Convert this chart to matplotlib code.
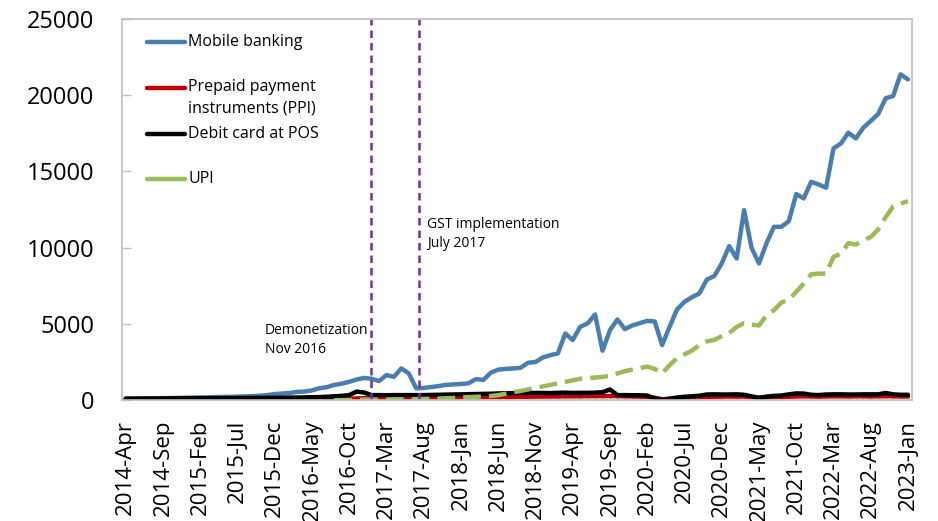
import matplotlib.pyplot as plt
from matplotlib.lines import Line2D
import numpy as np
import pandas as pd

plt.rcParams['font.family'] = ['Open Sans', 'DejaVu Sans']

months = pd.period_range('2014-04', '2023-01', freq='M')
month_labels = [m.strftime('%Y-%b') for m in months]

mobile_banking = [90, 95, 105, 110, 120, 130, 135, 150, 155, 170,
                  180, 185, 200, 210, 215, 230, 245, 265, 290,
                  330, 400, 430, 470, 540, 560, 640, 780, 850, 1000,
                  1080, 1200, 1350, 1460, 1400, 1250, 1640, 1530, 2080, 1750,
                  770, 800, 860, 920, 1000, 1030, 1060, 1100,
                  1380, 1320, 1800, 2000, 2050, 2080, 2120, 2450, 2500, 2800,
                  2950, 3060, 4370, 3940, 4810, 5030, 5620, 3240, 4590, 5290,
                  4660, 4900, 5050, 5200, 5160, 3610, 4810, 5950,
                  6450, 6750, 7000, 7910, 8140, 8970, 10100, 9290, 12460, 9990,
                  8970, 10280, 11370, 11370, 11740, 13520, 13230, 14320, 14150, 13930,
                  16510, 16840, 17540, 17170, 17870, 18310, 18770, 19800, 19950, 21370,
                  21040]

ppi = [20, 20, 25, 25, 25, 30, 30, 30, 35, 35, 40, 40, 40, 45, 45,
       45, 50, 50, 55, 55, 60, 60, 60, 65, 65, 70, 70, 75, 80, 85,
       90, 110, 130, 150, 140, 130, 140, 140, 150, 150, 160, 160, 170, 170,
       180, 180, 190, 190, 200, 200, 210,
       210, 220, 220, 220, 230, 230, 240, 240, 250, 250, 250, 260, 260, 260,
       270, 260, 250, 240, 230, 220, 160,
       60, 90, 130, 160, 180, 200, 210, 220, 230, 240,
       230, 240, 200, 160, 180, 200, 210, 220, 240, 250,
       240, 230, 240, 250, 250, 240, 250, 250, 240, 250,
       260, 250, 240, 240]

debit_pos = [100, 100, 105, 105, 110, 110, 115, 115, 120, 120, 125, 125, 130, 130,
             135, 140, 140, 145, 150, 150, 155, 160, 165, 170, 180, 190, 200,
             220, 250, 280, 330, 560, 500, 330, 330, 320, 330, 330, 330, 330, 330,
             340, 350, 360, 370, 380, 390, 400, 410, 420, 440,
             450, 460, 470, 480, 470, 470, 460, 480, 490, 470, 480, 480, 490, 520,
             700, 330, 330, 320, 320, 300, 100, 10, 90, 170, 220, 250, 290,
             370, 380, 370, 370, 380, 350, 250, 150,
             230, 280, 300, 380, 440, 430, 350, 330,
             370, 380, 380, 370, 370, 380, 380, 380,
             470, 380, 350, 350]

upi = [np.nan] * 28 + [0, 0, 2, 10, 30, 40, 30, 40, 50, 60,
                       60, 70, 80, 90, 100, 120, 140, 170, 200, 220,
                       240, 270, 330,
                       420, 520, 600, 700, 800, 900, 1000, 1100, 1200, 1300,
                       1400, 1450, 1480, 1520, 1600, 1750, 1900, 2000, 2100, 2200,
                       2050, 1750, 2300, 2750, 3000,
                       3250, 3600, 3850, 3950, 4200, 4400, 4800, 5050, 4950, 4900,
                       5550, 5900, 6400, 6600, 7100, 7650, 8250, 8300, 8300, 9400,
                       9600, 10300, 10200, 10500, 10700, 11200, 12000, 12700, 12900, 13050]

events = [(32.9, 'Demonetization\nNov 2016'), (39.4, 'GST implementation\nJuly 2017')]

x = np.arange(len(months))

fig = plt.figure(figsize=(9.38, 5.21), dpi=100)
ax = fig.add_axes([0.130, 0.232, 0.842, 0.7315])

series = [
    (mobile_banking, 'Mobile banking', '#4A7EB0', '-'),
    (ppi, 'Prepaid payment\ninstruments (PPI)', '#C00000', '-'),
    (debit_pos, 'Debit card at POS', '#000000', '-'),
    (upi, 'UPI', '#9BBB59', '--'),
]
for vals, name, col, ls in series:
    line, = ax.plot(x, vals, color=col, lw=3.2, ls=ls, solid_capstyle='round')
    if ls == '--':
        line.set_dashes((4, 1.8))

for ex, txt in events:
    ax.axvline(ex, color='#7030A0', lw=1.8, dashes=(3, 2))

ax.text(18.7, 3950, events[0][1], fontsize=10, va='center', ha='left', linespacing=1.3)
ax.text(40.5, 10900, events[1][1], fontsize=10, va='center', ha='left', linespacing=1.3)

# legend drawn by hand to keep Excel spacing
leg_y = [0.940, 0.819, 0.698, 0.580]
for (vals, name, col, ls), ly in zip(series, leg_y):
    ax.add_line(Line2D([0.032, 0.080], [ly, ly], transform=ax.transAxes,
                       color=col, lw=3.2, solid_capstyle='round'))
    two = '\n' in name
    ax.text(0.084, ly + 0.024 if two else ly, name, transform=ax.transAxes,
            fontsize=11.5, va='top' if two else 'center', ha='left',
            linespacing=1.45)

ax.set_xlim(-0.5, len(months) - 0.5)
ax.set_ylim(0, 25000)
ax.set_yticks(range(0, 25001, 5000))
ax.set_xticks(x[::5])
ax.set_xticklabels(month_labels[::5], rotation=90)
ax.set_xticks(x, minor=True)

ax.tick_params(axis='y', direction='in', length=6.5, width=1, color='#BFBFBF',
               labelsize=17, pad=20)
ax.tick_params(axis='x', which='both', direction='in', length=3, width=0.8,
               color='#BFBFBF', labelsize=16, pad=14)

for sp in ax.spines.values():
    sp.set_color('#BFBFBF')
    sp.set_linewidth(1.2)

fig.savefig('out.png', dpi=100)
